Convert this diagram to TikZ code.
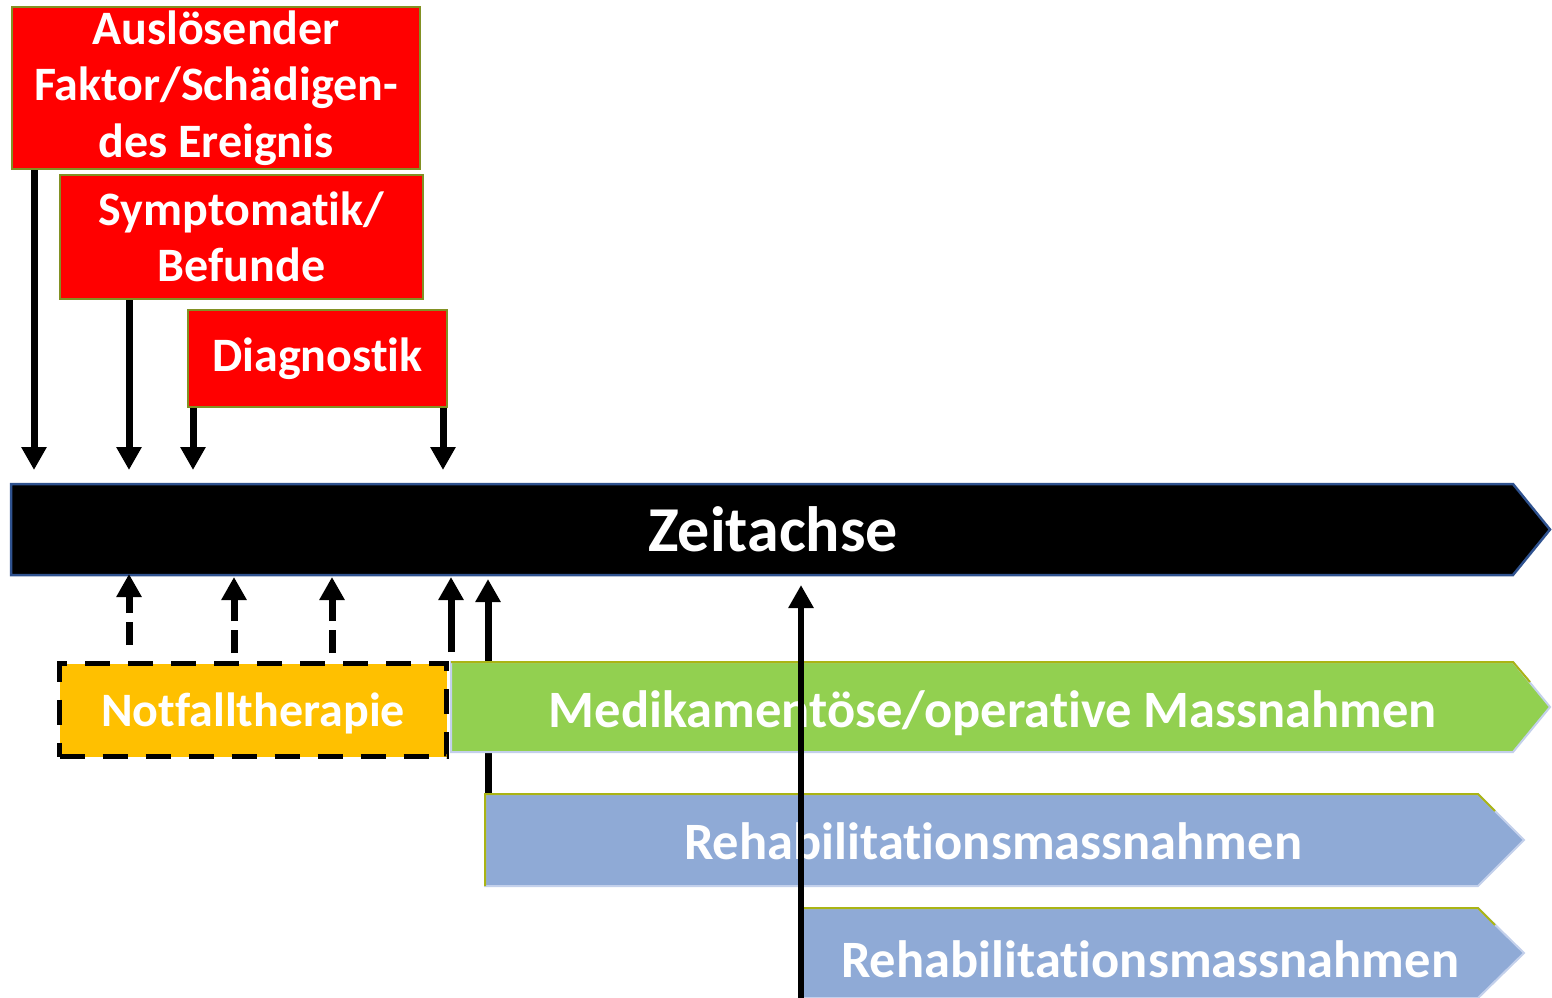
\documentclass[tikz,border=0pt]{standalone}
\usepackage{fontspec}
\setmainfont{Carlito}[RawFeature={-liga,-clig,-dlig,-calt}]
\newcommand\tiNoLig{t\kern0pt i}
\usetikzlibrary{arrows.meta,calc}
\definecolor{boxred}{RGB}{255,0,0}
\definecolor{olivebd}{RGB}{130,145,35}
\definecolor{axisbd}{RGB}{47,82,143}
\definecolor{notfall}{RGB}{255,192,0}
\definecolor{medgreen}{RGB}{146,208,80}
\definecolor{rehabblue}{RGB}{143,170,214}
\definecolor{lightbd}{RGB}{195,208,235}
\definecolor{topolive}{RGB}{170,180,20}
\begin{document}
\begin{tikzpicture}[x=1pt,y=-1pt,
  redbox/.style={rectangle, fill=boxred, draw=olivebd, line width=2pt, text=white, align=center,
    inner sep=0pt, anchor=north west, font=\bfseries\fontsize{48}{56.5}\selectfont},
  lbl/.style={text=white, font=\bfseries\fontsize{52.5}{60}\selectfont, inner sep=0pt, anchor=base},
  arr/.style={line width=7pt, -{Triangle[width=24pt,length=23pt]}},
  darr/.style={arr, dash pattern=on 23pt off 9pt},
  axisshape/.style={fill=black, draw=axisbd, line width=2.5pt},
  greenshape/.style={fill=medgreen, draw=lightbd, line width=2pt},
  rehabshape/.style={fill=rehabblue, draw=lightbd, line width=2pt},
  topedge/.style={draw=topolive, line width=2pt},
]
\useasboundingbox (0,0) rectangle (1552,998);

% red boxes
\node[redbox, minimum width=408pt, minimum height=162pt] (b1) at (11,6)
  {Auslösender\\Faktor/Schädigen-\\des Ereignis};
\node[redbox, minimum width=363pt, minimum height=124pt] (b2) at (59,174)
  {Symptoma\tiNoLig k/\\Befunde};
\node[redbox, minimum width=259pt, minimum height=97pt] (b3) at (187,309)
  {Diagnos\tiNoLig k};

% time axis
\path[axisshape] (11,484) -- (1513,484) -- (1550,529.5) -- (1513,575) -- (11,575) -- cycle;
\node[lbl, font=\bfseries\fontsize{64}{70}\selectfont] (zeit) at (773,551) {Zeitachse};

% down arrows
\coordinate (d1) at (34,470);
\coordinate (d2) at (129,470);
\coordinate (d3) at (193,470);
\coordinate (d4) at (443,470);
\draw[arr] (b1.south -| d1) -- (d1);
\draw[arr] (b2.south -| d2) -- (d2);
\draw[arr] (b3.south -| d3) -- (d3);
\draw[arr] (b3.south -| d4) -- (d4);

% up arrow behind green box
\coordinate (u5) at (488,579);
\coordinate (r1top) at (488,794);
\draw[arr] (r1top) -- (u5);

% Notfalltherapie
\node[rectangle, fill=notfall, draw=black, line width=5pt, dash pattern=on 25pt off 18pt,
  minimum width=387pt, minimum height=93pt, anchor=north west, inner sep=0pt, text depth=0pt,
  text=white, font=\bfseries\fontsize{48}{56}\selectfont] (notf) at (57,661) {Notfalltherapie};

% dashed/solid up arrows from Notfalltherapie
\coordinate (u1) at (129,574);
\coordinate (u2) at (234,577);
\coordinate (u3) at (332,577);
\coordinate (u4) at (451,577);
\coordinate (s1) at (129,645);
\coordinate (s2) at (234,653);
\coordinate (s3) at (332,653);
\coordinate (s4) at (451,652);
\draw[darr] (s1) -- (u1);
\draw[darr] (s2) -- (u2);
\draw[darr] (s3) -- (u3);
\draw[arr] (s4) -- (u4);

% green measures
\path[greenshape] (451,662) -- (1513,662) -- (1550,707) -- (1513,752) -- (451,752) -- cycle;
\draw[topedge] (451,662) -- (1513,662) -- (1530,682);
\node[lbl] (med) at (993,727) {Medikamentöse/opera\tiNoLig ve Massnahmen};

% rehab 1
\path[rehabshape] (485,794) -- (1478,794) -- (1524,840) -- (1478,886) -- (485,886) -- cycle;
\draw[topedge] (485,886) -- (485,794) -- (1478,794) -- (1495,811);
\node[lbl] (reh1) at (993,859) {Rehabilita\tiNoLig onsmassnahmen};

% rehab 2
\path[rehabshape] (800,908) -- (1478,908) -- (1524,953) -- (1478,998) -- (800,998) -- cycle;
\draw[topedge] (800,998) -- (800,908) -- (1478,908) -- (1495,925);
\node[lbl] (reh2) at (1150,977) {Rehabilita\tiNoLig onsmassnahmen};

% long up arrow over everything
\coordinate (u6) at (801,585);
\coordinate (bottom) at (801,998);
\draw[arr, line width=6pt] (bottom) -- (u6);
\end{tikzpicture}
\end{document}
